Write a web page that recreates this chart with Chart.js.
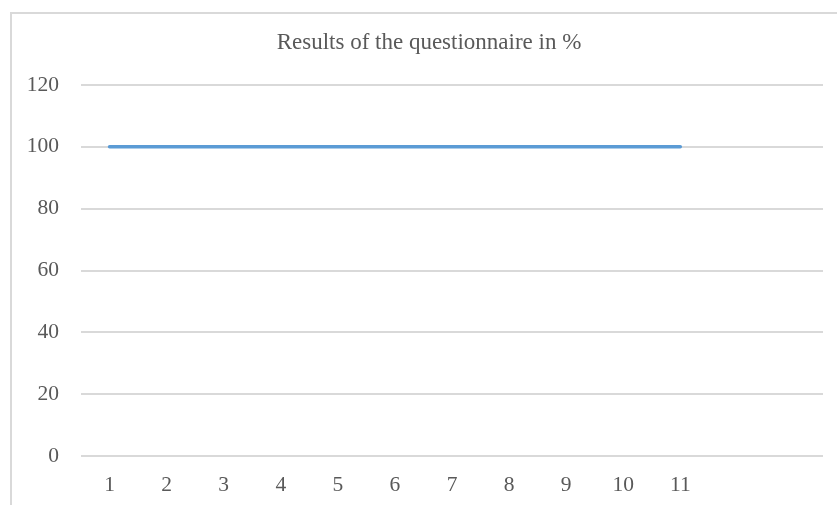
<!DOCTYPE html>
<html>
<head>
<meta charset="utf-8">
<script src="https://cdn.jsdelivr.net/npm/chart.js@4"></script>
<style>
    body { margin: 0; background: #fff; }
    .frame {
        position: absolute;
        left: 10px;
        top: 12px;
        width: 840px;
        height: 500px;
        border-left: 2px solid #d9d9d9;
        border-top: 2px solid #d9d9d9;
    }
    #myChart { position: absolute; left: 21px; top: 0; }
</style>
</head>
<body>
<div class="frame"></div>
<canvas id="myChart" width="816" height="505"></canvas>
<script>
// Questions 1-11, plus two empty slots at the end of the axis
const categories = ['1', '2', '3', '4', '5', '6', '7', '8', '9', '10', '11', '', ''];
const results = [100, 100, 100, 100, 100, 100, 100, 100, 100, 100, 100];
const yTicks = [0, 20, 40, 60, 80, 100, 120];

document.addEventListener("DOMContentLoaded", () => {
    const fontFamily = '"Liberation Serif", "Times New Roman", serif';
    const textColor = '#595959';
    const gridColor = '#d9d9d9';

    const ctx = document.getElementById('myChart').getContext('2d');
    new Chart(ctx, {
        type: 'line',
        data: {
            labels: categories,
            datasets: [{
                label: 'Results',
                data: results,
                borderColor: '#5b9bd5',
                borderWidth: 3.5,
                borderCapStyle: 'round',
                pointRadius: 0,
                fill: false
            }]
        },
        options: {
            responsive: false,
            animation: false,
            layout: {
                padding: 0
            },
            plugins: {
                legend: { display: false },
                tooltip: { enabled: false },
                title: {
                    display: true,
                    text: 'Results of the questionnaire in %',
                    color: textColor,
                    font: { family: fontFamily, size: 23, weight: 'normal', lineHeight: 1.2 },
                    padding: { top: 29.2, bottom: 28.2 }
                }
            },
            scales: {
                x: {
                    offset: true,
                    grid: { display: false, drawTicks: false },
                    border: { display: false },
                    ticks: {
                        color: textColor,
                        padding: 16.4,
                        maxRotation: 0,
                        autoSkip: false,
                        font: { family: fontFamily, size: 21.5 }
                    },
                    afterFit: (scale) => { scale.height = 49; }
                },
                y: {
                    min: 0,
                    max: 120,
                    afterBuildTicks: (scale) => {
                        scale.ticks = yTicks.map(v => ({ value: v }));
                    },
                    grid: { color: gridColor, lineWidth: 2, drawTicks: false },
                    border: { display: false },
                    ticks: {
                        color: textColor,
                        padding: 22,
                        font: { family: fontFamily, size: 21.5 }
                    },
                    afterFit: (scale) => { scale.width = 60; }
                },
                // empty strip on the right, leaves a margin after the plot area
                yRight: {
                    position: 'right',
                    grid: { display: false, drawTicks: false },
                    border: { display: false },
                    ticks: { display: false },
                    afterFit: (scale) => { scale.width = 14; }
                }
            }
        }
    });
});
</script>
</body>
</html>
